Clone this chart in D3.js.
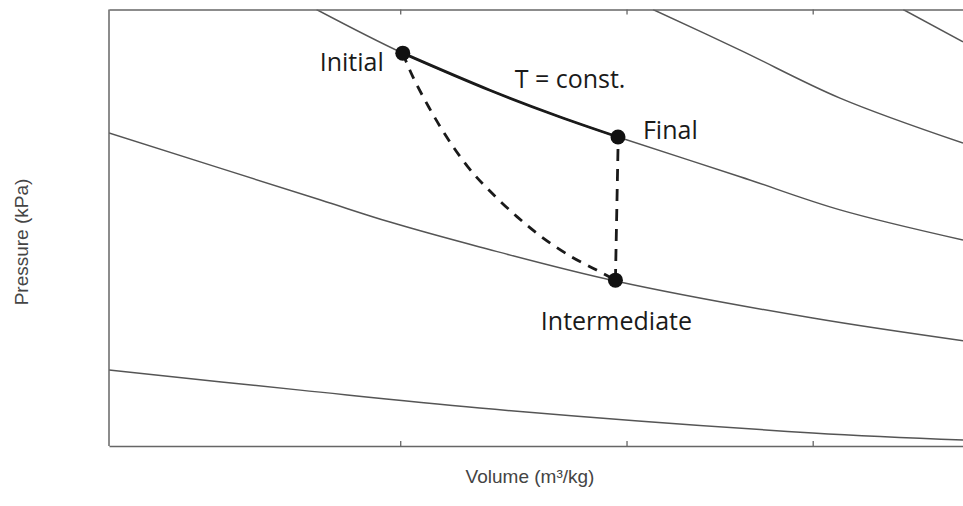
<!DOCTYPE html>
<html>
<head>
<meta charset="utf-8">
<style>
  body { margin: 0; background: #fff; }
  svg { display: block; }
  .frame { fill: none; stroke: #666; stroke-width: 1.5px; }
  .axis path, .axis line { stroke: #666; stroke-width: 1.3px; }
  .isotherm { fill: none; stroke: #555; stroke-width: 1.5px; }
  .process { fill: none; stroke: #1a1a1a; stroke-width: 2.8px; }
  .dashed { stroke-dasharray: 10 8; }
  .state { fill: #111; }
  .note { font-family: "Open Sans", sans-serif; font-size: 25px; fill: #1a1a1a; }
  .axis-title { font-family: "Liberation Sans", Arial, sans-serif; font-size: 19px; fill: #444; }
</style>
</head>
<body>
<script src="https://cdn.jsdelivr.net/npm/d3@7"></script>
<script>
// isotherms: [volume, pressure] in chart units
const isotherm1 = [[0, 1.74], [2.24, 1.28], [4.34, 0.87], [8.24, 0.30], [10, 0.14]];
const isotherm2 = [[0, 7.17], [2.47, 5.64], [3.29, 5.13], [4.34, 4.56], [5.93, 3.78], [8.24, 2.93], [10, 2.41]];
const isotherm3 = [[2.43, 10], [3.44, 9.00], [4.46, 8.15], [5.25, 7.56], [5.96, 7.08], [7.39, 6.17], [8.56, 5.41], [10, 4.72]];
const isotherm4 = [[6.37, 10], [7.39, 9.07], [8.56, 7.97], [10, 6.94]];
const isotherm5 = [[9.30, 10], [10, 9.26]];
const isotherms = [isotherm1, isotherm2, isotherm3, isotherm4, isotherm5];

// states of the process
const stateNames = ['Initial', 'Final', 'Intermediate'];
const stateVolume = [3.44, 5.96, 5.93];
const statePressure = [9.00, 7.08, 3.80];

// dashed path initial -> intermediate
const indirectPath = [[3.44, 9.00], [3.56, 8.45], [3.88, 7.31], [4.20, 6.40], [4.46, 5.84], [4.78, 5.25],
  [5.08, 4.77], [5.42, 4.33], [5.71, 4.03], [5.93, 3.80]];

const xTicks = [3.41, 6.06, 8.24];
const xTitle = 'Volume (m³/kg)';
const yTitle = 'Pressure (kPa)';
const processLabel = 'T = const.';

const width = 963, height = 506;
const margin = { top: 9.5, right: 0, bottom: 60, left: 109 };

const svg = d3.select('body').append('svg')
  .attr('width', width)
  .attr('height', height);

const x = d3.scaleLinear().domain([0, 10]).range([margin.left, width - margin.right]);
const y = d3.scaleLinear().domain([0, 10]).range([height - margin.bottom, margin.top]);

const line = d3.line()
  .x(d => x(d[0]))
  .y(d => y(d[1]))
  .curve(d3.curveCatmullRom.alpha(0.5));

// isotherms, clipped to the plot
svg.append('clipPath').attr('id', 'plot')
  .append('rect')
  .attr('x', x(0)).attr('y', y(10))
  .attr('width', x(10) - x(0)).attr('height', y(0) - y(10));

const plot = svg.append('g').attr('clip-path', 'url(#plot)');

plot.selectAll('.isotherm')
  .data(isotherms)
  .join('path')
  .attr('class', 'isotherm')
  .attr('d', line);

// frame and ticks
svg.append('g')
  .attr('class', 'axis')
  .attr('transform', `translate(0,${y(0)})`)
  .call(d3.axisBottom(x).tickValues(xTicks).tickSize(-5).tickSizeOuter(0).tickFormat(''));

svg.append('g')
  .attr('class', 'axis')
  .attr('transform', `translate(0,${y(10)})`)
  .call(d3.axisTop(x).tickValues(xTicks).tickSize(-5).tickSizeOuter(0).tickFormat(''));

svg.append('line')
  .attr('class', 'frame')
  .attr('x1', x(0)).attr('x2', x(0))
  .attr('y1', y(10)).attr('y2', y(0));

// T = const. part of the isotherm between initial and final
const direct = isotherm3.filter(d => d[0] >= stateVolume[0] - 1e-9 && d[0] <= stateVolume[1] + 1e-9);
plot.append('path')
  .attr('class', 'process')
  .attr('d', line(direct));

plot.append('path')
  .attr('class', 'process dashed')
  .attr('d', line(indirectPath));

plot.append('path')
  .attr('class', 'process dashed')
  .style('stroke-dasharray', '12 8')
  .attr('d', d3.line()([[x(stateVolume[1]), y(statePressure[1]) + 12], [x(stateVolume[2]), y(statePressure[2])]]));

const states = stateNames.map((name, i) => ({ name, v: stateVolume[i], p: statePressure[i] }));

svg.selectAll('.state')
  .data(states)
  .join('circle')
  .attr('class', 'state')
  .attr('cx', d => x(d.v))
  .attr('cy', d => y(d.p))
  .attr('r', 7.5);

// labels next to the states
const labelStyle = {
  Initial: { dx: -19, dy: 18, anchor: 'end' },
  Final: { dx: 25, dy: 2, anchor: 'start' },
  Intermediate: { dx: 1, dy: 50, anchor: 'middle' }
};

svg.selectAll('.state-label')
  .data(states)
  .join('text')
  .attr('class', 'note')
  .attr('x', d => x(d.v) + labelStyle[d.name].dx)
  .attr('y', d => y(d.p) + labelStyle[d.name].dy)
  .attr('text-anchor', d => labelStyle[d.name].anchor)
  .text(d => d.name);

svg.append('text')
  .attr('class', 'note')
  .attr('x', x(4.75))
  .attr('y', y(8.2))
  .text(processLabel);

// axis titles
svg.append('text')
  .attr('class', 'axis-title')
  .attr('x', 530)
  .attr('y', 483)
  .attr('text-anchor', 'middle')
  .text(xTitle);

svg.append('text')
  .attr('class', 'axis-title')
  .attr('transform', 'translate(28,242) rotate(-90)')
  .attr('text-anchor', 'middle')
  .text(yTitle);
</script>
</body>
</html>
